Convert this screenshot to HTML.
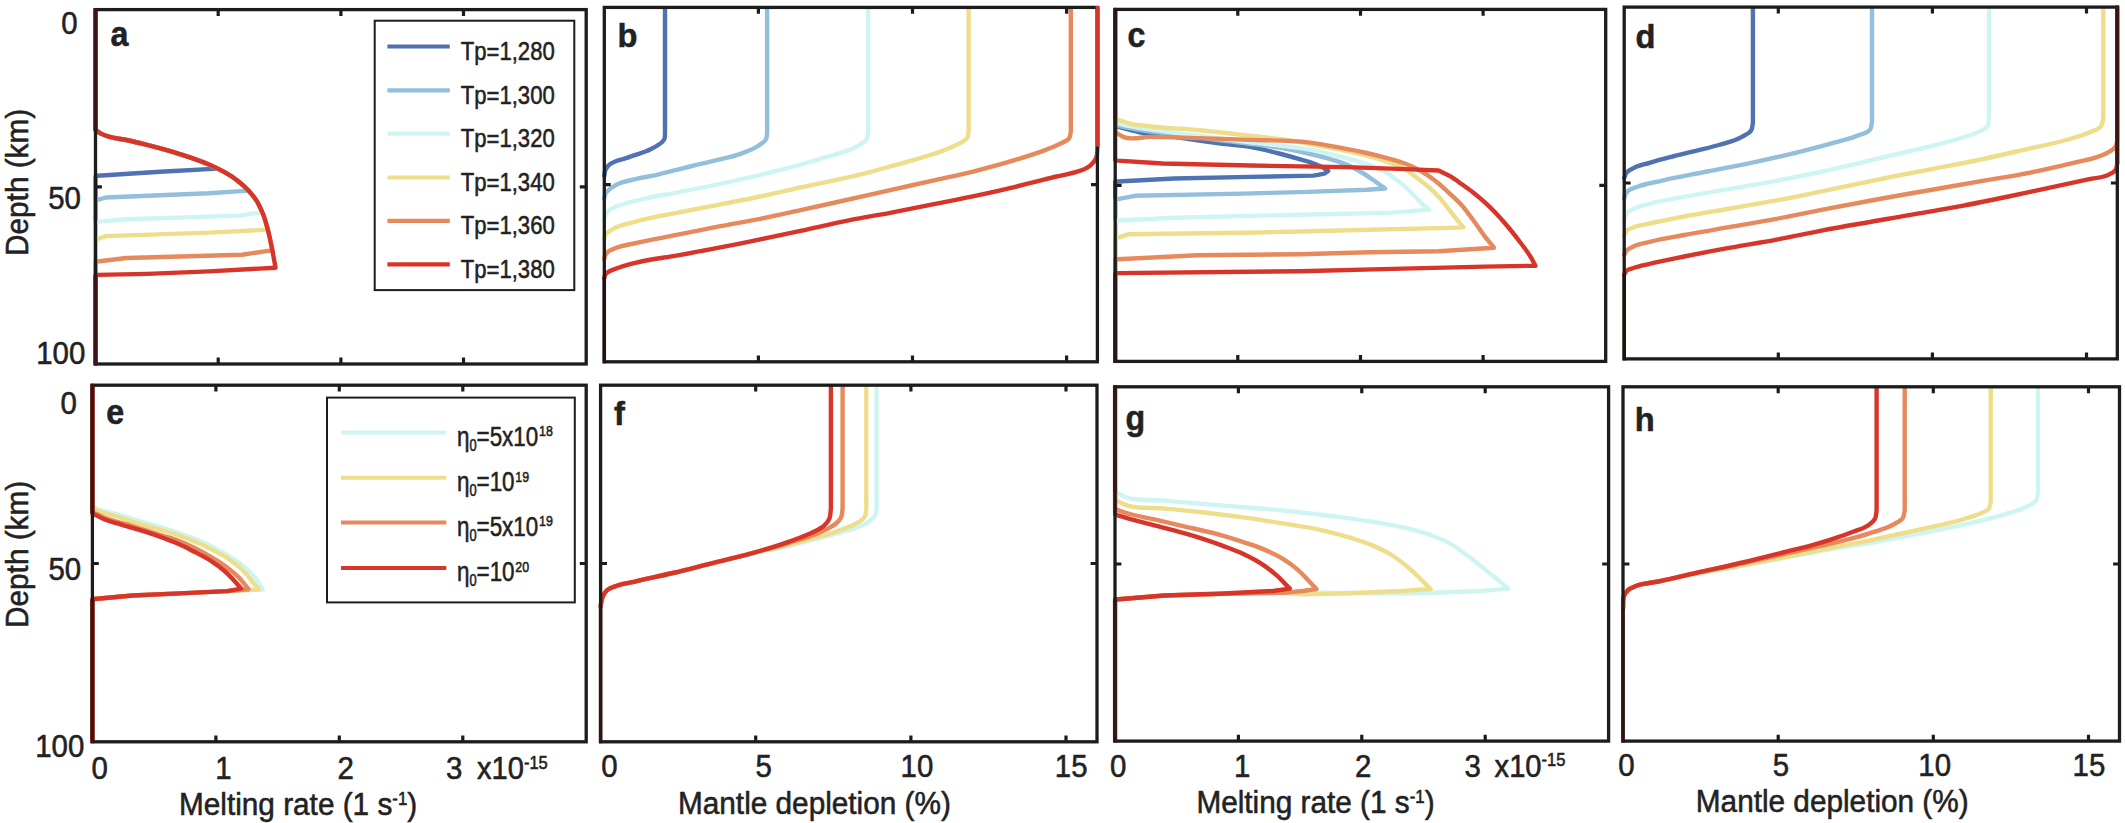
<!DOCTYPE html>
<html lang="en"><head><meta charset="utf-8"><title>Melting rate and mantle depletion profiles</title>
<style>html,body{margin:0;padding:0;background:#fff}body{width:2125px;height:823px;overflow:hidden}svg{display:block}text{font-family:"Liberation Sans",sans-serif;fill:#222222;stroke:#222222;stroke-width:0.55px;stroke-linejoin:round}path{fill:none}</style></head><body>
<svg width="2125" height="823" viewBox="0 0 2125 823">
<rect width="2125" height="823" fill="#ffffff"/>
<g id="panel-a">
<clipPath id="clip-a"><rect x="93.2" y="8.6" width="495.3" height="356.4"/></clipPath>
<g clip-path="url(#clip-a)">
<path d="M95.5 9.6 L95.5 130 C97.2 131.1 98.7 132.4 100.5 133.4 C103.4 135 106.6 135.9 109.8 136.9 C115.2 138.5 120.8 138.9 126.3 140 C133.2 141.4 140.1 143.1 147 144.8 C153.9 146.5 160.8 148.4 167.6 150.4 C174.5 152.4 181.5 154.5 188.3 156.8 C195.2 159.1 202.2 161.3 208.9 164.4 C211.7 165.7 214.5 167.2 217.3 168.6 L160 171.8 L97.4 175.8 L95.5 176.6 L95.5 364" stroke="#4F73B2" stroke-width="4.4" stroke-linejoin="round" stroke-linecap="round" />
<path d="M95.5 9.6 L95.5 130 C97.2 131.1 98.7 132.4 100.5 133.4 C103.4 135 106.6 135.9 109.8 136.9 C115.2 138.5 120.8 138.9 126.3 140 C133.2 141.4 140.1 143.1 147 144.8 C153.9 146.5 160.8 148.4 167.6 150.4 C174.5 152.4 181.5 154.5 188.3 156.8 C195.2 159.1 202.2 161.5 208.9 164.4 C214.6 166.9 220.2 169.6 225.5 172.7 C229.8 175.2 234 177.8 237.9 180.9 C241.7 183.9 245 187.4 248.5 190.6 L208.9 193.3 L105.7 197.5 L98.4 199.6 L95.5 201 L95.5 364" stroke="#93BEDC" stroke-width="4.4" stroke-linejoin="round" stroke-linecap="round" />
<path d="M95.5 9.6 L95.5 130 C97.2 131.1 98.7 132.4 100.5 133.4 C103.4 135 106.6 135.9 109.8 136.9 C115.2 138.5 120.8 138.9 126.3 140 C133.2 141.4 140.1 143.1 147 144.8 C153.9 146.5 160.8 148.4 167.6 150.4 C174.5 152.4 181.5 154.5 188.3 156.8 C195.2 159.1 202.2 161.5 208.9 164.4 C214.6 166.9 220.2 169.6 225.5 172.7 C229.8 175.2 234 177.9 237.9 180.9 C241.5 183.7 245 186.8 248.2 190.2 C251.2 193.4 254.1 196.9 256.5 200.6 C258.9 204.4 260.4 208.6 262.4 212.6 L254.4 213.2 L240 215.6 L126.3 219.2 L99.5 221.6 L95.5 222.6 L95.5 364" stroke="#CFF5F3" stroke-width="4.4" stroke-linejoin="round" stroke-linecap="round" />
<path d="M95.5 9.6 L95.5 130 C97.2 131.1 98.7 132.4 100.5 133.4 C103.4 135 106.6 135.9 109.8 136.9 C115.2 138.5 120.8 138.9 126.3 140 C133.2 141.4 140.1 143.1 147 144.8 C153.9 146.5 160.8 148.4 167.6 150.4 C174.5 152.4 181.5 154.5 188.3 156.8 C195.2 159.1 202.2 161.5 208.9 164.4 C214.6 166.9 220.2 169.6 225.5 172.7 C229.8 175.2 234 177.9 237.9 180.9 C241.5 183.7 245 186.8 248.2 190.2 C251.2 193.4 254.1 196.9 256.5 200.6 C259 204.5 260.8 208.7 262.6 213 C264.8 218.3 266.1 224 267.8 229.5 L262.6 229.9 L208.9 232.6 L105.7 236.1 L98.4 238.8 L95.5 240 L95.5 364" stroke="#EEDE8C" stroke-width="4.4" stroke-linejoin="round" stroke-linecap="round" />
<path d="M95.5 9.6 L95.5 130 C97.2 131.1 98.7 132.4 100.5 133.4 C103.4 135 106.6 135.9 109.8 136.9 C115.2 138.5 120.8 138.9 126.3 140 C133.2 141.4 140.1 143.1 147 144.8 C153.9 146.5 160.8 148.4 167.6 150.4 C174.5 152.4 181.5 154.5 188.3 156.8 C195.2 159.1 202.2 161.5 208.9 164.4 C214.6 166.9 220.2 169.6 225.5 172.7 C229.8 175.2 234 177.9 237.9 180.9 C241.5 183.7 245 186.8 248.2 190.2 C251.2 193.4 254.1 196.9 256.5 200.6 C259 204.5 260.8 208.7 262.6 213 C264.8 218.3 266.3 223.9 267.8 229.5 C269.4 235.6 270.7 241.8 271.9 248 C272.1 248.9 272.2 249.7 272.4 250.6 L267.8 250.9 L242 254.7 L126.3 258 L97.4 261.5 L95.5 262.2 L95.5 364" stroke="#E6895C" stroke-width="4.4" stroke-linejoin="round" stroke-linecap="round" />
<path d="M95.5 9.6 L95.5 130 C97.2 131.1 98.7 132.4 100.5 133.4 C103.4 135 106.6 135.9 109.8 136.9 C115.2 138.5 120.8 138.9 126.3 140 C133.2 141.4 140.1 143.1 147 144.8 C153.9 146.5 160.8 148.4 167.6 150.4 C174.5 152.4 181.5 154.5 188.3 156.8 C195.2 159.1 202.2 161.5 208.9 164.4 C214.6 166.9 220.2 169.6 225.5 172.7 C229.8 175.2 234 177.9 237.9 180.9 C241.5 183.7 245 186.8 248.2 190.2 C251.2 193.4 254.1 196.9 256.5 200.6 C259 204.5 260.8 208.7 262.6 213 C264.8 218.3 266.3 223.9 267.8 229.5 C269.4 235.6 270.6 241.8 271.9 248 C273.2 254.5 274.3 261.1 275.5 267.7 L208.9 271.4 L147 273.9 L97.4 274.9 L95.5 275.2 L95.5 364" stroke="#D8352A" stroke-width="4.4" stroke-linejoin="round" stroke-linecap="round" />
</g>
<rect x="95.5" y="9.6" width="490.7" height="354.4" fill="none" stroke="#1c1c1c" stroke-width="3.3"/>
<path d="M218.2 9.6 v6.4 M218.2 364 v-6.4 M340.9 9.6 v6.4 M340.9 364 v-6.4 M463.5 9.6 v6.4 M463.5 364 v-6.4 M95.5 186.8 h6.4 M586.2 186.8 h-6.4" stroke="#1c1c1c" stroke-width="3.2" stroke-linecap="butt"/>
<path d="M95.5 8.1 V130.5" stroke="#3d1315" stroke-width="3.9" stroke-opacity="1" stroke-linecap="butt"/>
<path d="M95.5 275 V365.5" stroke="#3d1315" stroke-width="3.9" stroke-opacity="1" stroke-linecap="butt"/>
</g>
<g id="panel-b">
<clipPath id="clip-b"><rect x="602" y="6.4" width="497.7" height="356.4"/></clipPath>
<g clip-path="url(#clip-b)">
<path d="M665 7.4 L665 132.5 C664.8 134.7 665.2 137 664.4 139 C663.2 142.1 659.7 143.9 657 145.8 C653.9 148 650.2 149.5 646.7 151 C643.3 152.4 639.8 153.5 636.3 154.7 C632.9 155.9 629.5 157.1 626 158.2 C622.6 159.3 619 159.8 615.7 161.3 C613.1 162.4 610.3 163.5 608.4 165.5 C607 167 606 168.7 605.3 170.6 C604.7 172.3 604.6 174.2 604.3 176" stroke="#4F73B2" stroke-width="4.4" stroke-linejoin="round" stroke-linecap="round" />
<path d="M767.1 7.4 L767.1 132.5 C766.7 134.8 767 137.3 766 139.4 C764.5 142.4 761 143.9 758.3 145.8 C752.7 149.7 746.1 151.8 739.7 154.1 C733 156.5 725.9 158 719 159.7 C712.1 161.4 705.2 162.8 698.3 164.4 C691.4 166.1 684.6 167.9 677.7 169.6 C670.8 171.3 663.9 173.2 657 174.8 C650.1 176.3 643.1 177.2 636.3 178.9 C629.3 180.6 621.9 181.5 615.7 185.1 C613.1 186.6 610.5 188.1 608.4 190.3 C607.2 191.5 606 192.8 605.3 194.4 C604.7 195.7 604.6 197.1 604.3 198.5" stroke="#93BEDC" stroke-width="4.4" stroke-linejoin="round" stroke-linecap="round" />
<path d="M868.1 7.4 L868.1 132.5 C867.6 134.8 867.8 137.3 866.6 139.3 C865.2 141.6 862.5 142.8 860.3 144.4 C849.4 152.3 835.1 154.1 822.3 158.2 C815.5 160.4 808.6 162.4 801.7 164.4 C788 168.3 774.1 171.5 760.3 174.8 C746.6 178.1 732.8 181.2 719 184.1 C705.3 187 691.5 189.6 677.7 192.3 C663.9 195.1 649.9 197 636.3 200.6 C629.4 202.4 622.2 203.7 615.7 206.8 C613.2 208 610.4 209 608.4 210.9 C607.2 212.1 606 213.5 605.3 215.1 C604.8 216.3 604.6 217.7 604.3 219" stroke="#CFF5F3" stroke-width="4.4" stroke-linejoin="round" stroke-linecap="round" />
<path d="M968.6 7.4 L968.6 132.5 C968.1 134.4 968 136.5 967 138.2 C965.4 140.8 962.1 141.8 959.5 143.4 C954.4 146.5 948.6 148.4 943 150.6 C936.2 153.2 929.2 155.3 922.3 157.5 C912.1 160.7 901.6 163.2 891.3 166.1 C884.4 168 877.6 170.1 870.7 171.9 C847.9 178 824.7 182.1 801.7 187.2 C787.9 190.3 774.1 193.6 760.3 196.5 C746.6 199.4 732.8 202 719 204.7 C705.2 207.4 691.4 209.8 677.7 212.6 C663.9 215.4 649.9 217.6 636.3 221.3 C629.4 223.2 622.1 224.2 615.7 227.5 C612.8 229 609.7 230.4 607.4 232.6 C606.6 233.3 605.8 234 605.3 234.9 C604.7 236 604.6 237.3 604.3 238.5" stroke="#EEDE8C" stroke-width="4.4" stroke-linejoin="round" stroke-linecap="round" />
<path d="M1070.8 7.4 L1070.8 131.5 C1070.3 133.7 1070.4 136.2 1069.2 138.2 C1067.5 141 1063.7 141.8 1060.8 143.4 C1056.2 145.9 1051.2 147.7 1046.3 149.6 C1036.2 153.6 1025.7 156.7 1015.3 159.9 C1001.7 164.1 987.9 167.8 974 171.3 C960.3 174.7 946.5 177.5 932.7 180.6 C918.9 183.7 905.1 186.8 891.3 189.9 C861.4 196.6 831.6 203.4 801.7 209.9 C787.9 212.9 774.1 216 760.3 218.8 C746.6 221.5 732.7 223.8 719 226.4 C705.2 229.1 691.5 231.9 677.7 234.7 C663.9 237.5 650 239.8 636.3 243 C629.4 244.6 622.2 245.3 615.7 248.1 C612.8 249.3 609.5 250 607.4 252.3 C606.6 253.2 605.8 254.3 605.3 255.4 C604.8 256.5 604.6 257.8 604.3 259" stroke="#E6895C" stroke-width="4.4" stroke-linejoin="round" stroke-linecap="round" />
<path d="M1097.6 7.4 L1097.6 146 C1097.1 150 1097.8 154.3 1096.2 157.9 C1095 160.6 1093 163.1 1090.8 165.1 C1088.2 167.5 1084.8 168.9 1081.5 170.3 C1077.5 172 1073.2 172.8 1069 173.8 C1064.9 174.8 1060.8 175.6 1056.7 176.5 C1049.8 178.1 1042.9 179.9 1036 181.6 C1029.1 183.3 1022.2 185.1 1015.3 186.8 C1001.6 190.1 987.8 193.2 974 196.1 C960.3 199 946.5 201.7 932.7 204.4 C918.9 207.2 905.1 210 891.3 212.6 C877.6 215.2 863.7 217.4 850 220.1 C833.8 223.3 817.8 227.1 801.7 230.6 C787.9 233.6 774.1 236.5 760.3 239.4 C746.5 242.2 732.8 245 719 247.7 C705.3 250.4 691.5 252.9 677.7 255.4 C663.9 257.9 649.9 259.1 636.3 262.6 C629.4 264.4 622.4 266.1 615.7 268.8 C612.9 269.9 609.7 270.6 607.4 272.5 C606.6 273.1 605.8 273.8 605.3 274.6 C604.7 275.6 604.6 276.9 604.3 278" stroke="#D8352A" stroke-width="4.4" stroke-linejoin="round" stroke-linecap="round" />
</g>
<rect x="604.3" y="7.4" width="493.1" height="354.4" fill="none" stroke="#1c1c1c" stroke-width="3.3"/>
<path d="M758.4 7.4 v6.4 M758.4 361.8 v-6.4 M912.5 7.4 v6.4 M912.5 361.8 v-6.4 M1066.6 7.4 v6.4 M1066.6 361.8 v-6.4 M604.3 184.6 h6.4 M1097.4 184.6 h-6.4" stroke="#1c1c1c" stroke-width="3.2" stroke-linecap="butt"/>
<path d="M1097.6 5.9 V146.5" stroke="#D8352A" stroke-width="4" stroke-opacity="1" stroke-linecap="butt"/>
<path d="M604.3 278 V363.3" stroke="#1d1410" stroke-width="3.5" stroke-opacity="1" stroke-linecap="butt"/>
</g>
<g id="panel-c">
<clipPath id="clip-c"><rect x="1112.9" y="8.4" width="495.1" height="354"/></clipPath>
<g clip-path="url(#clip-c)">
<path d="M1115.2 9.4 L1115.2 126 C1116 126.2 1116.9 126.4 1117.7 126.6 C1125 128.4 1132.2 130.8 1139.6 132.3 C1151 134.7 1162.7 135.2 1174.2 136.9 C1181.9 138 1189.6 139.3 1197.3 140.4 C1205 141.5 1212.7 142.6 1220.4 143.6 C1230.2 144.8 1240.2 145.3 1250 146.9 C1259.8 148.6 1269.5 151 1279.2 153.5 C1285.7 155.2 1292.1 157 1298.6 158.9 C1303.5 160.3 1308.5 161.4 1313.2 163.2 C1316.5 164.5 1319.8 165.8 1322.9 167.6 C1324.7 168.6 1326.4 169.9 1328.2 171 L1325 173.3 L1318 174.9 L1313.2 175.6 L1250 176.9 L1174.2 178.5 L1117.7 181.5 L1115.2 181.8 L1115.2 361.4" stroke="#4F73B2" stroke-width="4.4" stroke-linejoin="round" stroke-linecap="round" />
<path d="M1115.2 9.4 L1115.2 124.5 C1116 124.8 1116.9 125 1117.7 125.3 C1124.8 127.5 1132.3 128.5 1139.6 129.8 C1151.1 131.8 1162.7 132.7 1174.2 134.2 C1189.6 136.2 1205 138.3 1220.4 140.2 C1230.3 141.4 1240.1 142.5 1250 143.8 C1259.7 145 1269.5 146.1 1279.2 147.7 C1289 149.3 1298.7 151.3 1308.3 153.5 C1314.8 155 1321.3 156.6 1327.7 158.4 C1334.3 160.3 1340.9 162 1347.2 164.7 C1352.3 166.9 1357.1 169.7 1361.8 172.5 C1366.8 175.5 1371.5 178.9 1376.3 182.2 C1379.3 184.3 1382.2 186.4 1385.1 188.5 L1366.6 189.8 L1308.3 191.9 L1243.5 193.6 L1135 195.8 L1117.7 199.2 L1115.2 200 L1115.2 361.4" stroke="#93BEDC" stroke-width="4.4" stroke-linejoin="round" stroke-linecap="round" />
<path d="M1115.2 9.4 L1115.2 122.3 C1116 122.6 1116.9 122.8 1117.7 123.1 C1121.1 124.2 1124.6 125 1128.1 125.8 C1135.7 127.5 1143.5 128.3 1151.2 129.5 C1166.5 131.8 1181.9 133.4 1197.3 135.4 C1214.9 137.7 1232.4 140.3 1250 142.4 C1263 144 1276 145 1288.9 146.7 C1298.6 148 1308.4 149.1 1318 151.1 C1324.6 152.5 1331 154.4 1337.5 156 C1344 157.6 1350.5 158.9 1356.9 160.8 C1361.8 162.3 1366.7 163.8 1371.5 165.7 C1376.5 167.7 1381.5 169.8 1386.1 172.5 C1389.5 174.5 1392.6 176.9 1395.8 179.3 C1399.1 181.8 1402.4 184.3 1405.5 187.1 C1408.9 190.1 1412 193.6 1415.2 196.8 C1418.3 199.9 1421.2 203.4 1424.6 206.2 C1426.1 207.4 1427.7 208.5 1429.2 209.6 L1392.3 212.6 L1346.2 213.8 L1300 214.7 L1174.2 217.7 L1118.8 220.5 L1115.2 221 L1115.2 361.4" stroke="#CFF5F3" stroke-width="4.4" stroke-linejoin="round" stroke-linecap="round" />
<path d="M1115.2 9.4 L1115.2 118.8 C1116 119.1 1116.9 119.3 1117.7 119.6 C1121.2 120.7 1124.6 122.1 1128.1 123.1 C1135.6 125.2 1143.5 125.5 1151.2 126.5 C1166.5 128.4 1182 128.6 1197.3 130 C1214.9 131.6 1232.4 133.8 1250 135.8 C1263.2 137.3 1276.5 138.5 1289.6 140.5 C1297.3 141.7 1305 143.1 1312.7 144.5 C1321 146 1329.3 147.5 1337.5 149.2 C1347.2 151.2 1357 153 1366.6 155.5 C1373.2 157.2 1379.7 159.1 1386.1 161.3 C1391 162.9 1396 164.2 1400.6 166.6 C1404 168.4 1407.1 170.8 1410.3 173 C1413.6 175.3 1416.9 177.8 1420.1 180.3 C1423.4 182.8 1426.7 185.3 1429.8 188 C1433.2 191 1436.4 194.3 1439.5 197.7 C1443.3 201.8 1446.5 206.4 1450 210.8 C1453.1 214.6 1456.1 218.5 1459.2 222.3 C1460.6 224 1462 225.7 1463.4 227.4 L1438.5 228.1 L1369.2 229.7 L1300 231.5 L1243.5 232.7 L1128.1 234.3 L1118.8 237.3 L1115.2 238 L1115.2 361.4" stroke="#EEDE8C" stroke-width="4.4" stroke-linejoin="round" stroke-linecap="round" />
<path d="M1115.2 9.4 L1115.2 132.5 C1116 132.9 1116.9 133.2 1117.7 133.6 C1119.3 134.4 1120.7 135.7 1122.3 136.5 C1130.9 140.9 1141.6 136.7 1151.2 136.9 C1166.6 137.2 1181.9 137.6 1197.3 138.1 C1214.9 138.6 1232.4 139.2 1250 139.9 C1269.4 140.6 1289 140 1308.3 142.4 C1318.1 143.6 1327.8 145.4 1337.5 147.2 C1347.2 149 1357 150.8 1366.6 153 C1373.1 154.5 1379.6 156.1 1386.1 157.9 C1392.6 159.7 1399.2 161.2 1405.5 163.7 C1410.5 165.6 1415.4 167.9 1420.1 170.5 C1425.2 173.4 1430 176.8 1434.6 180.3 C1440 184.5 1445 189.2 1450 193.9 C1453.9 197.5 1457.9 201.1 1461.5 205 C1465.7 209.7 1469.3 214.9 1473.1 220 C1477 225.3 1480.6 230.9 1484.6 236.2 C1487.6 240.1 1490.8 243.9 1493.9 247.7 L1438.5 251.2 L1369.2 252.3 L1300 254.2 L1197.3 255.3 L1117.7 259.2 L1115.2 259.6 L1115.2 361.4" stroke="#E6895C" stroke-width="4.4" stroke-linejoin="round" stroke-linecap="round" />
<path d="M1115.2 9.4 L1115.2 160 L1117.7 160.6 L1162.7 163.5 L1250 165.5 L1347.2 167.1 L1405.5 169.1 L1438.5 170.5 C1442.3 172.4 1446.3 174.1 1450 176.2 C1454 178.5 1457.7 181.3 1461.5 184 C1465.4 186.8 1469.3 189.5 1473.1 192.5 C1477 195.6 1480.9 198.8 1484.6 202.2 C1488.6 205.8 1492.5 209.6 1496.2 213.5 C1500.2 217.7 1504 222.1 1507.7 226.5 C1511.7 231.2 1515.5 236.1 1519.2 241 C1523.2 246.3 1527.4 251.5 1530.8 257.2 C1532.4 260 1533.9 262.9 1535.4 265.7 L1484.6 266.6 L1392.3 268.9 L1300 271.2 L1117.7 273.1 L1115.2 273.4 L1115.2 361.4" stroke="#D8352A" stroke-width="4.4" stroke-linejoin="round" stroke-linecap="round" />
</g>
<rect x="1115.2" y="9.4" width="490.5" height="352" fill="none" stroke="#1c1c1c" stroke-width="3.3"/>
<path d="M1237.8 9.4 v6.4 M1237.8 361.4 v-6.4 M1360.5 9.4 v6.4 M1360.5 361.4 v-6.4 M1483.1 9.4 v6.4 M1483.1 361.4 v-6.4 M1115.2 185.4 h6.4 M1605.7 185.4 h-6.4" stroke="#1c1c1c" stroke-width="3.2" stroke-linecap="butt"/>
<path d="M1115.2 7.9 V119" stroke="#2b1718" stroke-width="3.5" stroke-opacity="1" stroke-linecap="butt"/>
<path d="M1115.2 273.4 V362.9" stroke="#2b1718" stroke-width="3.5" stroke-opacity="1" stroke-linecap="butt"/>
</g>
<g id="panel-d">
<clipPath id="clip-d"><rect x="1621.9" y="6.1" width="497.7" height="353.8"/></clipPath>
<g clip-path="url(#clip-d)">
<path d="M1752.9 7.1 L1752.9 122.5 C1752.4 125 1752.6 127.7 1751.4 130 C1749.6 133.5 1745.3 134.9 1741.9 136.9 C1734.9 141 1726.7 142.7 1718.9 145 C1711.3 147.3 1703.5 148.9 1695.8 150.8 C1688.1 152.7 1680.4 154.5 1672.7 156.5 C1665 158.5 1657.2 160.5 1649.6 162.8 C1644.2 164.5 1638.5 165.4 1633.5 168.1 C1631 169.4 1628.2 170.5 1626.5 172.7 C1625.3 174.2 1625 176.2 1624.2 178" stroke="#4F73B2" stroke-width="4.4" stroke-linejoin="round" stroke-linecap="round" />
<path d="M1872 7.1 L1872 122 C1871.4 124.4 1871.5 127.1 1870.3 129.2 C1867.9 133.4 1861.8 133.9 1857.3 135.8 C1849.9 138.9 1841.9 140.5 1834.2 142.7 C1822.7 146 1811.2 149 1799.6 151.9 C1784.3 155.7 1768.9 159 1753.5 162.3 C1738.1 165.6 1722.7 168.4 1707.3 171.5 C1691.9 174.6 1676.5 177.3 1661.2 180.8 C1653.5 182.6 1645.5 183.7 1638.1 186.5 C1634.5 187.9 1630.3 188.4 1627.7 191.2 C1626.7 192.3 1625.8 193.6 1625.2 195 C1624.7 196.1 1624.5 197.3 1624.2 198.5" stroke="#93BEDC" stroke-width="4.4" stroke-linejoin="round" stroke-linecap="round" />
<path d="M1989 7.1 L1989 119 C1988.6 121.4 1988.9 124.1 1987.7 126.2 C1985.9 129.3 1981.7 130.3 1978.5 131.9 C1973.4 134.5 1967.8 135.9 1962.3 137.7 C1954.7 140.2 1946.9 142.2 1939.2 144.2 C1931.6 146.2 1923.9 147.9 1916.2 149.7 C1908.5 151.5 1900.8 153.2 1893.1 155 C1869.6 160.4 1846.3 166.4 1822.7 171.5 C1807.3 174.8 1791.9 177.9 1776.5 180.8 C1761.2 183.7 1745.8 186.1 1730.4 188.8 C1715 191.5 1699.6 194 1684.2 196.9 C1672.6 199.1 1660.9 200.6 1649.6 203.8 C1644.2 205.3 1638.5 206.2 1633.5 208.9 C1631 210.2 1628.2 211.3 1626.5 213.5 C1625.5 214.8 1625 216.5 1624.2 218" stroke="#CFF5F3" stroke-width="4.4" stroke-linejoin="round" stroke-linecap="round" />
<path d="M2103.3 7.1 L2103.3 119 C2102.5 121.4 2102.4 124.1 2101 126.2 C2098.5 129.9 2093.3 130.7 2089.2 132.6 C2081.9 136 2073.9 137.8 2066.2 140 C2054.8 143.3 2043.1 145.4 2031.5 148.1 C2016.1 151.6 2000.8 155.2 1985.4 158.5 C1970 161.8 1954.6 164.7 1939.2 167.7 C1923.8 170.7 1908.4 173.5 1893.1 176.5 C1869.6 181.2 1846.2 186.4 1822.7 191.2 C1807.3 194.3 1791.9 197.5 1776.5 200.4 C1761.2 203.3 1745.8 205.8 1730.4 208.5 C1715 211.2 1699.6 213.6 1684.2 216.5 C1672.6 218.7 1661.1 220.9 1649.6 223.5 C1644.2 224.7 1638.6 225.2 1633.5 227.4 C1631.1 228.4 1628.2 229.1 1626.5 231.1 C1625.4 232.4 1625 234 1624.2 235.5" stroke="#EEDE8C" stroke-width="4.4" stroke-linejoin="round" stroke-linecap="round" />
<path d="M2117.3 7.1 L2117.3 140 C2116.8 142 2116.7 144.2 2115.8 146 C2114.2 149.1 2110.7 150.9 2107.7 152.7 C2104.2 154.9 2100.1 156 2096.2 157.3 C2090.2 159.3 2083.9 160.4 2077.7 161.9 C2062.4 165.6 2047 169.2 2031.5 172.3 C2016.2 175.4 2000.8 177.7 1985.4 180.4 C1970 183.1 1954.6 185.8 1939.2 188.5 C1923.8 191.2 1908.5 193.8 1893.1 196.5 C1869.6 200.7 1846.1 205.1 1822.7 209.6 C1807.3 212.6 1791.9 215.9 1776.5 218.8 C1761.2 221.7 1745.8 224.2 1730.4 226.9 C1715 229.6 1699.6 232.1 1684.2 235 C1672.6 237.2 1661 239 1649.6 241.9 C1644.2 243.3 1638.5 244.1 1633.5 246.5 C1631.1 247.6 1628.2 248.4 1626.5 250.5 C1625.4 251.8 1625 253.5 1624.2 255" stroke="#E6895C" stroke-width="4.4" stroke-linejoin="round" stroke-linecap="round" />
<path d="M2117.3 7.1 L2117.3 163 C2116.7 165.3 2116.9 168 2115.6 170 C2113.9 172.6 2110.5 173.7 2107.7 175.1 C2102 177.9 2095.4 177.8 2089.2 179.2 C2077.7 181.7 2066.1 184.1 2054.6 186.6 C2039.2 189.9 2023.9 193.3 2008.5 196.5 C1993.1 199.7 1977.7 202.9 1962.3 205.8 C1947 208.7 1931.6 211.2 1916.2 213.9 C1885 219.4 1853.8 224.4 1822.7 230.4 C1807.3 233.4 1791.9 236.7 1776.5 239.6 C1761.2 242.5 1745.7 244.9 1730.4 247.7 C1715 250.5 1699.6 253.4 1684.2 256.5 C1672.6 258.9 1661.1 261.1 1649.6 263.9 C1644.2 265.2 1638.7 266.2 1633.5 268 C1631.1 268.8 1628.3 269 1626.5 270.8 C1625.5 271.8 1625 273.3 1624.2 274.5" stroke="#D8352A" stroke-width="4.4" stroke-linejoin="round" stroke-linecap="round" />
</g>
<rect x="1624.2" y="7.1" width="493.1" height="351.8" fill="none" stroke="#1c1c1c" stroke-width="3.3"/>
<path d="M1778.3 7.1 v6.4 M1778.3 358.9 v-6.4 M1932.4 7.1 v6.4 M1932.4 358.9 v-6.4 M2086.5 7.1 v6.4 M2086.5 358.9 v-6.4 M1624.2 183 h6.4 M2117.3 183 h-6.4" stroke="#1c1c1c" stroke-width="3.2" stroke-linecap="butt"/>
<path d="M2117.3 5.6 V164" stroke="#3a1614" stroke-width="3.8" stroke-opacity="1" stroke-linecap="butt"/>
<path d="M1624.2 274.5 V360.4" stroke="#1d1410" stroke-width="3.5" stroke-opacity="1" stroke-linecap="butt"/>
</g>
<g id="panel-e">
<clipPath id="clip-e"><rect x="90.1" y="384.2" width="498.4" height="358.6"/></clipPath>
<g clip-path="url(#clip-e)">
<path d="M92.4 385.2 L92.4 506.5 C93.1 506.9 93.8 507.3 94.5 507.7 C101.2 511.3 109.3 511.8 116.6 514 C121.9 515.6 127.1 517.2 132.4 518.8 C148.2 523.6 164.3 527.7 179.8 533.4 C190.4 537.3 201.2 541.1 211.3 546.1 C216.7 548.8 222 551.6 227.1 554.8 C232.6 558.2 238 561.7 242.9 565.8 C247.5 569.6 251.9 573.7 255.6 578.4 C258.3 581.9 260.3 585.8 262.7 589.5 L227.1 591.1 L179.8 593.4 L132.4 595.5 L94.5 599 L92.4 599.4 L92.4 741.8" stroke="#CFF5F3" stroke-width="4.4" stroke-linejoin="round" stroke-linecap="round" />
<path d="M92.4 385.2 L92.4 508.8 C93.1 509.1 93.8 509.4 94.5 509.7 C101.6 512.7 109.3 514.1 116.6 516.4 C121.9 518.1 127.1 519.9 132.4 521.6 C148.1 526.7 164.3 530 179.8 535.8 C190.5 539.8 201.1 544 211.3 549.2 C216.7 551.9 222.1 554.6 227.1 557.9 C232.7 561.6 238.1 565.7 242.9 570.5 C246.4 573.9 249.3 577.8 252.4 581.6 C254.5 584.2 256.6 586.9 258.7 589.5 L227.1 591.1 L179.8 593.4 L132.4 595.5 L94.5 599 L92.4 599.4 L92.4 741.8" stroke="#EEDE8C" stroke-width="4.4" stroke-linejoin="round" stroke-linecap="round" />
<path d="M92.4 385.2 L92.4 512.2 C93.1 512.5 93.8 512.7 94.5 513 C97.8 514.3 100.8 516.2 104 517.6 C113.1 521.5 123 523.1 132.4 526 C143 529.2 153.5 532.5 164 536 C169.3 537.7 174.6 539.3 179.8 541.3 C190.8 545.5 201.2 551.1 211.3 557.1 C216.7 560.3 222.1 563.6 227.1 567.4 C231.6 570.8 235.9 574.3 239.8 578.4 C243 581.8 245.6 585.6 248.5 589.2 L227.1 591.1 L179.8 593.4 L132.4 595.5 L94.5 599 L92.4 599.4 L92.4 741.8" stroke="#E6895C" stroke-width="4.4" stroke-linejoin="round" stroke-linecap="round" />
<path d="M92.4 385.2 L92.4 513.6 C93.1 513.9 93.8 514.2 94.5 514.5 C97.7 515.9 100.7 517.9 104 519.2 C108.1 520.9 112.4 521.9 116.6 523.2 C121.9 524.8 127.1 526.3 132.4 527.9 C137.7 529.5 143 530.9 148.2 532.6 C153.5 534.3 158.8 536.2 164 538.2 C169.3 540.2 174.6 542.2 179.8 544.5 C185.1 546.9 190.3 549.7 195.5 552.4 C200.8 555.2 206.3 557.8 211.3 561.1 C215.7 564 220 567 224 570.5 C227.4 573.4 230.4 576.7 233.5 580 C236.2 582.8 238.7 585.8 241.3 588.7 L227.1 591.1 L179.8 593.4 L132.4 595.5 L94.5 599 L92.4 599.4 L92.4 741.8" stroke="#D8352A" stroke-width="4.4" stroke-linejoin="round" stroke-linecap="round" />
</g>
<rect x="92.4" y="385.2" width="493.8" height="356.6" fill="none" stroke="#1c1c1c" stroke-width="3.3"/>
<path d="M215.9 385.2 v6.4 M215.9 741.8 v-6.4 M339.3 385.2 v6.4 M339.3 741.8 v-6.4 M462.8 385.2 v6.4 M462.8 741.8 v-6.4 M92.4 563.5 h6.4 M586.2 563.5 h-6.4" stroke="#1c1c1c" stroke-width="3.2" stroke-linecap="butt"/>
<path d="M92.4 383.7 V513" stroke="#3d1315" stroke-width="3.9" stroke-opacity="1" stroke-linecap="butt"/>
<path d="M92.4 599.4 V743.3" stroke="#3d1315" stroke-width="3.9" stroke-opacity="1" stroke-linecap="butt"/>
</g>
<g id="panel-f">
<clipPath id="clip-f"><rect x="598.3" y="384.2" width="501" height="358.6"/></clipPath>
<g clip-path="url(#clip-f)">
<path d="M876.6 385.2 L876.6 507.5 C876.1 510.2 876.3 513.2 875 515.7 C873.7 518.1 871.3 519.8 869.1 521.5 C865.6 524.1 861.4 525.6 857.4 527.3 C851.2 529.9 844.5 531.3 838 533.2 C831.6 535 825.1 536.7 818.6 538.4 C808.9 540.9 799.2 543.5 789.4 545.8 C776.5 548.8 763.4 550.7 750.5 553.6 C737.5 556.5 724.6 560.1 711.6 563.3 C698.7 566.5 685.8 569.9 672.8 573 C659.9 576.1 646.8 578.7 633.9 581.8 C627.4 583.4 620.6 584 614.4 586.6 C611.8 587.7 608.8 588.5 606.7 590.5 C605 592.1 603.8 594.3 602.8 596.4 C601.4 599.4 601.3 602.8 600.6 606" stroke="#CFF5F3" stroke-width="4.4" stroke-linejoin="round" stroke-linecap="round" />
<path d="M866.3 385.2 L866.3 508.5 C865.8 511.2 866.2 514.3 864.8 516.7 C863.6 518.8 861.3 520.1 859.4 521.5 C855.9 524.1 851.7 525.5 847.7 527.3 C841.4 530.1 834.9 532.2 828.3 534.2 C821.9 536.2 815.3 537.7 808.8 539.4 C802.3 541.1 795.9 542.9 789.4 544.6 C776.5 547.9 763.4 550.5 750.5 553.6 C737.5 556.7 724.6 560.1 711.6 563.3 C698.7 566.5 685.8 569.9 672.8 573 C659.9 576.1 646.8 578.7 633.9 581.8 C627.4 583.4 620.6 584 614.4 586.6 C611.8 587.7 608.8 588.5 606.7 590.5 C605 592.1 603.8 594.3 602.8 596.4 C601.4 599.4 601.3 602.8 600.6 606" stroke="#EEDE8C" stroke-width="4.4" stroke-linejoin="round" stroke-linecap="round" />
<path d="M842.6 385.2 L842.6 508.5 C842.1 511.5 842.4 514.8 841 517.6 C839.9 519.9 838 521.8 836.1 523.5 C833.8 525.5 831 526.8 828.3 528.3 C825.2 530 821.9 531.5 818.6 533 C809.2 537.2 799.2 539.8 789.4 542.8 C776.5 546.8 763.5 550.2 750.5 553.6 C737.6 557 724.6 560.1 711.6 563.3 C698.7 566.5 685.8 569.9 672.8 573 C659.9 576.1 646.8 578.7 633.9 581.8 C627.4 583.4 620.6 584 614.4 586.6 C611.8 587.7 608.8 588.5 606.7 590.5 C605 592.1 603.8 594.3 602.8 596.4 C601.4 599.4 601.3 602.8 600.6 606" stroke="#E6895C" stroke-width="4.4" stroke-linejoin="round" stroke-linecap="round" />
<path d="M830.9 385.2 L830.9 508.5 C830.4 511.9 830.8 515.5 829.4 518.6 C828.3 521.2 826.4 523.4 824.4 525.4 C821.2 528.6 816.7 530.2 812.7 532.2 C808.3 534.4 803.7 536.2 799.1 538 C792.7 540.5 786.2 542.6 779.7 544.8 C770 548 760.3 550.9 750.5 553.6 C737.6 557.2 724.6 560.1 711.6 563.3 C698.7 566.5 685.8 569.9 672.8 573 C659.9 576.1 646.8 578.7 633.9 581.8 C627.4 583.4 620.6 584 614.4 586.6 C611.8 587.7 608.8 588.5 606.7 590.5 C605 592.1 603.8 594.3 602.8 596.4 C601.4 599.4 601.3 602.8 600.6 606" stroke="#D8352A" stroke-width="4.4" stroke-linejoin="round" stroke-linecap="round" />
</g>
<rect x="600.6" y="385.2" width="496.4" height="356.6" fill="none" stroke="#1c1c1c" stroke-width="3.3"/>
<path d="M755.7 385.2 v6.4 M755.7 741.8 v-6.4 M910.9 385.2 v6.4 M910.9 741.8 v-6.4 M1066 385.2 v6.4 M1066 741.8 v-6.4 M600.6 563.5 h6.4 M1097 563.5 h-6.4" stroke="#1c1c1c" stroke-width="3.2" stroke-linecap="butt"/>
<path d="M600.6 606 V743.3" stroke="#2e1512" stroke-width="3.5" stroke-opacity="1" stroke-linecap="butt"/>
</g>
<g id="panel-g">
<clipPath id="clip-g"><rect x="1112.7" y="385.8" width="498.2" height="356.3"/></clipPath>
<g clip-path="url(#clip-g)">
<path d="M1115 386.8 L1115 492 C1115.9 492.4 1116.9 492.9 1117.8 493.3 C1120.1 494.4 1122.4 495.7 1124.8 496.7 C1137 501.8 1151.1 499.4 1164.3 500.6 C1184.1 502.4 1203.8 503.9 1223.6 505.6 C1243.4 507.2 1263.2 508.5 1282.9 510.5 C1302.7 512.5 1322.5 514.7 1342.2 517.4 C1355.4 519.2 1368.6 521.1 1381.7 523.4 C1391.6 525.2 1401.6 526.8 1411.4 529.3 C1418 531 1424.7 532.8 1431.1 535.2 C1437.9 537.7 1444.6 540.5 1450.9 544.1 C1457.9 548 1464.2 553.2 1470.6 558 C1477.4 563.1 1483.9 568.5 1490.4 573.8 C1496.4 578.7 1502.3 583.7 1508.2 588.6 L1480.5 591 L1441 592.5 L1401.5 593.5 L1273 592.3 L1223.6 593.9 L1164.3 595.5 L1115.9 599.5 L1115 599.8 L1115 741.1" stroke="#CFF5F3" stroke-width="4.4" stroke-linejoin="round" stroke-linecap="round" />
<path d="M1115 386.8 L1115 500 C1115.9 500.4 1116.9 500.8 1117.8 501.2 C1120.2 502.3 1122.4 503.6 1124.8 504.6 C1137 509.7 1151.1 507.2 1164.3 508.5 C1177.5 509.8 1190.6 511 1203.8 512.5 C1217 514 1230.2 515.6 1243.4 517.4 C1256.6 519.2 1269.8 521.3 1282.9 523.4 C1296.1 525.6 1309.4 527.4 1322.4 530.3 C1332.4 532.6 1342.3 535.1 1352.1 538.2 C1358.7 540.3 1365.4 542.4 1371.8 545.1 C1378.6 548 1385.3 551.1 1391.6 555 C1397.2 558.5 1402.4 562.6 1407.4 566.8 C1412.2 570.8 1416.7 575.3 1421.2 579.7 C1424.4 582.8 1427.5 585.9 1430.7 589 L1401.5 591 L1342.2 593.5 L1302.6 594.3 L1273 592.3 L1223.6 593.9 L1164.3 595.5 L1115.9 599.5 L1115 599.8 L1115 741.1" stroke="#EEDE8C" stroke-width="4.4" stroke-linejoin="round" stroke-linecap="round" />
<path d="M1115 386.8 L1115 508.5 C1115.6 508.8 1116.3 509.2 1116.9 509.5 C1119.4 510.8 1122.1 511.6 1124.8 512.5 C1134.4 515.8 1144.5 517.1 1154.4 519.4 C1164.3 521.7 1174.2 524 1184.1 526.3 C1194 528.6 1203.9 530.6 1213.7 533.2 C1223.7 535.9 1233.6 538.8 1243.4 542.1 C1250 544.3 1256.7 546.4 1263.1 549.1 C1269.9 552 1276.6 555 1282.9 558.9 C1287.7 561.9 1292.4 565.1 1296.7 568.8 C1301 572.4 1304.7 576.7 1308.6 580.7 C1311.3 583.4 1313.9 586.2 1316.5 589 L1302.6 591 L1282.9 592.9 L1273 593 L1223.6 593.9 L1164.3 595.5 L1115.9 599.5 L1115 599.8 L1115 741.1" stroke="#E6895C" stroke-width="4.4" stroke-linejoin="round" stroke-linecap="round" />
<path d="M1115 386.8 L1115 514 C1115.3 514.2 1115.6 514.3 1115.9 514.5 C1118.7 516 1121.8 516.5 1124.8 517.4 C1134.5 520.4 1144.5 522.7 1154.4 525.3 C1164.3 527.9 1174.3 530.4 1184.1 533.2 C1190.7 535.1 1197.3 537.1 1203.8 539.2 C1210.4 541.4 1217.1 543.7 1223.6 546.1 C1230.3 548.6 1237 551 1243.4 554 C1250.2 557.2 1256.9 560.7 1263.1 564.9 C1268 568.2 1272.6 571.8 1277 575.7 C1280.5 578.8 1283.5 582.3 1286.8 585.6 C1287.8 586.6 1288.8 587.6 1289.8 588.6 L1273 591 L1223.6 593.5 L1164.3 595.5 L1115.9 599.5 L1115 599.8 L1115 741.1" stroke="#D8352A" stroke-width="4.4" stroke-linejoin="round" stroke-linecap="round" />
</g>
<rect x="1115" y="386.8" width="493.6" height="354.3" fill="none" stroke="#1c1c1c" stroke-width="3.3"/>
<path d="M1238.4 386.8 v6.4 M1238.4 741.1 v-6.4 M1361.8 386.8 v6.4 M1361.8 741.1 v-6.4 M1485.2 386.8 v6.4 M1485.2 741.1 v-6.4 M1115 564 h6.4 M1608.6 564 h-6.4" stroke="#1c1c1c" stroke-width="3.2" stroke-linecap="butt"/>
<path d="M1115 385.3 V492" stroke="#2b1718" stroke-width="3.5" stroke-opacity="1" stroke-linecap="butt"/>
<path d="M1115 599.8 V742.6" stroke="#2b1718" stroke-width="3.5" stroke-opacity="1" stroke-linecap="butt"/>
</g>
<g id="panel-h">
<clipPath id="clip-h"><rect x="1620.7" y="385.8" width="501.1" height="356.3"/></clipPath>
<g clip-path="url(#clip-h)">
<path d="M2037.9 386.8 L2037.9 493 C2037.3 495.4 2037.4 498.1 2036.2 500.3 C2034.2 503.7 2029.8 504.9 2026.3 506.8 C2019.6 510.5 2011.9 512.1 2004.6 514.4 C1997.5 516.6 1990.2 518.4 1983 520.2 C1975.8 522 1968.6 523.6 1961.4 525.2 C1947 528.4 1932.5 531 1918.1 533.9 C1903.7 536.7 1889.3 539.8 1874.8 542.3 C1860.4 544.8 1845.9 546.5 1831.5 549 C1817 551.5 1802.6 554.5 1788.2 557.2 C1773.8 559.9 1759.3 562.6 1744.9 565.2 C1730.5 567.8 1716 570.2 1701.6 572.9 C1687.1 575.6 1672.7 578.6 1658.3 581.5 C1651.1 582.9 1643.4 583 1636.6 585.8 C1633.6 587 1630.3 587.9 1628 590.1 C1626.4 591.6 1625 593.6 1624.1 595.6 C1622.4 599.4 1623.4 603.9 1623 608" stroke="#CFF5F3" stroke-width="4.4" stroke-linejoin="round" stroke-linecap="round" />
<path d="M1990.7 386.8 L1990.7 502 C1990 504.3 1990.1 507 1988.6 509 C1986.8 511.4 1983.5 512 1980.8 513.3 C1974.7 516.3 1967.9 517.9 1961.4 519.8 C1954.2 521.9 1947 523.5 1939.7 525.2 C1932.5 526.9 1925.3 528.3 1918.1 529.8 C1903.7 532.9 1889.3 536.3 1874.8 539.3 C1860.4 542.3 1845.9 545 1831.5 547.9 C1817.1 550.8 1802.6 553.8 1788.2 556.6 C1773.8 559.4 1759.3 562.1 1744.9 564.8 C1730.5 567.5 1716 569.8 1701.6 572.6 C1687.1 575.4 1672.7 578.6 1658.3 581.5 C1651.1 583 1643.4 583 1636.6 585.8 C1633.6 587 1630.3 587.9 1628 590.1 C1626.4 591.6 1625 593.6 1624.1 595.6 C1622.4 599.4 1623.4 603.9 1623 608" stroke="#EEDE8C" stroke-width="4.4" stroke-linejoin="round" stroke-linecap="round" />
<path d="M1904.7 386.8 L1904.7 510.5 C1904.1 512.9 1904.2 515.5 1903 517.6 C1901.2 520.8 1897.3 522.2 1894.2 524.1 C1888.3 527.7 1881.4 529.4 1874.8 531.7 C1867.7 534.2 1860.4 536.2 1853.1 538.2 C1845.9 540.2 1838.7 541.9 1831.5 543.6 C1824.3 545.3 1817 546.8 1809.8 548.4 C1802.6 550 1795.4 551.6 1788.2 553.2 C1773.8 556.4 1759.4 559.7 1744.9 562.8 C1730.5 565.9 1716 568.6 1701.6 571.7 C1687.1 574.8 1672.8 578.5 1658.3 581.5 C1651.1 583 1643.4 583 1636.6 585.8 C1633.6 587 1630.3 587.9 1628 590.1 C1626.4 591.6 1625 593.6 1624.1 595.6 C1622.4 599.4 1623.4 603.9 1623 608" stroke="#E6895C" stroke-width="4.4" stroke-linejoin="round" stroke-linecap="round" />
<path d="M1876.6 386.8 L1876.6 510.5 C1876.1 513.2 1876.3 516.2 1875 518.7 C1873.6 521.5 1870.8 523.3 1868.3 525.2 C1863.9 528.5 1858.2 529.7 1853.1 531.7 C1846 534.5 1838.8 536.9 1831.5 539.3 C1824.3 541.6 1817.1 543.8 1809.8 545.8 C1802.6 547.8 1795.4 549.4 1788.2 551.2 C1773.8 554.8 1759.4 558.6 1744.9 562 C1730.5 565.4 1716 568.5 1701.6 571.7 C1687.2 575 1672.8 578.5 1658.3 581.5 C1651.1 583 1643.4 583 1636.6 585.8 C1633.6 587 1630.3 587.9 1628 590.1 C1626.4 591.6 1625 593.6 1624.1 595.6 C1622.4 599.4 1623.4 603.9 1623 608" stroke="#D8352A" stroke-width="4.4" stroke-linejoin="round" stroke-linecap="round" />
</g>
<rect x="1623" y="386.8" width="496.5" height="354.3" fill="none" stroke="#1c1c1c" stroke-width="3.3"/>
<path d="M1778.2 386.8 v6.4 M1778.2 741.1 v-6.4 M1933.3 386.8 v6.4 M1933.3 741.1 v-6.4 M2088.5 386.8 v6.4 M2088.5 741.1 v-6.4 M1623 564 h6.4 M2119.5 564 h-6.4" stroke="#1c1c1c" stroke-width="3.2" stroke-linecap="butt"/>
<path d="M1623 608 V742.6" stroke="#2e1512" stroke-width="3.5" stroke-opacity="1" stroke-linecap="butt"/>
</g>
<g id="labels">
<text font-size="31" text-anchor="end" transform="translate(77.7 33.5) scale(0.95 1)" >0</text>
<text font-size="31" text-anchor="end" transform="translate(81 208.6) scale(0.95 1)" >50</text>
<text font-size="31" text-anchor="end" transform="translate(85.3 364.1) scale(0.95 1)" >100</text>
<text font-size="31" text-anchor="end" transform="translate(77 414.3) scale(0.95 1)" >0</text>
<text font-size="31" text-anchor="end" transform="translate(81.2 579.8) scale(0.95 1)" >50</text>
<text font-size="31" text-anchor="end" transform="translate(84.3 757.1) scale(0.95 1)" >100</text>
<text font-size="31" text-anchor="middle" transform="translate(27.7 182.4) rotate(-90) scale(0.96 1)" >Depth (km)</text>
<text font-size="31" text-anchor="middle" transform="translate(27.7 554.4) rotate(-90) scale(0.96 1)" >Depth (km)</text>
<text font-size="31" text-anchor="middle" transform="translate(99.7 778.9) scale(0.95 1)" >0</text>
<text font-size="31" text-anchor="middle" transform="translate(223.4 778.9) scale(0.95 1)" >1</text>
<text font-size="31" text-anchor="middle" transform="translate(345.6 778.9) scale(0.95 1)" >2</text>
<text font-size="31" text-anchor="middle" transform="translate(454.2 778.9) scale(0.95 1)" >3</text>
<text font-size="31" text-anchor="middle" transform="translate(609.4 777.2) scale(0.95 1)" >0</text>
<text font-size="31" text-anchor="middle" transform="translate(763.7 777.2) scale(0.95 1)" >5</text>
<text font-size="31" text-anchor="middle" transform="translate(917 777.2) scale(0.95 1)" >10</text>
<text font-size="31" text-anchor="middle" transform="translate(1071.2 777.2) scale(0.95 1)" >15</text>
<text font-size="31" text-anchor="middle" transform="translate(1118.2 776.5) scale(0.95 1)" >0</text>
<text font-size="31" text-anchor="middle" transform="translate(1242.2 776.5) scale(0.95 1)" >1</text>
<text font-size="31" text-anchor="middle" transform="translate(1363.2 776.5) scale(0.95 1)" >2</text>
<text font-size="31" text-anchor="middle" transform="translate(1472.8 776.5) scale(0.95 1)" >3</text>
<text font-size="31" text-anchor="middle" transform="translate(1626.5 775.5) scale(0.95 1)" >0</text>
<text font-size="31" text-anchor="middle" transform="translate(1781 775.5) scale(0.95 1)" >5</text>
<text font-size="31" text-anchor="middle" transform="translate(1934.7 775.5) scale(0.95 1)" >10</text>
<text font-size="31" text-anchor="middle" transform="translate(2089 775.5) scale(0.95 1)" >15</text>
<text font-size="31" text-anchor="start" transform="translate(477 778.9) scale(0.94 1)" >x10<tspan font-size="17.5" dy="-10.2">-15</tspan></text>
<text font-size="31" text-anchor="start" transform="translate(1494.6 776.5) scale(0.94 1)" >x10<tspan font-size="17.5" dy="-10.2">-15</tspan></text>
<text font-size="31" text-anchor="start" transform="translate(179 815.3) scale(0.96 1)" >Melting rate (1 s<tspan font-size="17.5" dy="-10.2">-1</tspan><tspan dy="10.2">)</tspan></text>
<text font-size="31" text-anchor="start" transform="translate(1196.4 812.8) scale(0.96 1)" >Melting rate (1 s<tspan font-size="17.5" dy="-10.2">-1</tspan><tspan dy="10.2">)</tspan></text>
<text font-size="31" text-anchor="start" transform="translate(678 813.6) scale(0.96 1)" >Mantle depletion (%)</text>
<text font-size="31" text-anchor="start" transform="translate(1695.8 811.5) scale(0.96 1)" >Mantle depletion (%)</text>
<text font-size="35" font-weight="bold" text-anchor="start" transform="translate(110.5 46.2) scale(0.92 1)">a</text>
<text font-size="34" font-weight="bold" text-anchor="start" transform="translate(617.4 47.2) scale(0.96 1)">b</text>
<text font-size="35" font-weight="bold" text-anchor="start" transform="translate(1127.4 47.3) scale(0.92 1)">c</text>
<text font-size="34" font-weight="bold" text-anchor="start" transform="translate(1635.6 47.9) scale(0.96 1)">d</text>
<text font-size="35" font-weight="bold" text-anchor="start" transform="translate(106.2 423.6) scale(0.92 1)">e</text>
<text font-size="34" font-weight="bold" text-anchor="start" transform="translate(614 424.5) scale(0.96 1)">f</text>
<text font-size="35" font-weight="bold" text-anchor="start" transform="translate(1125.6 429.9) scale(0.92 1)">g</text>
<text font-size="34" font-weight="bold" text-anchor="start" transform="translate(1634.8 430.7) scale(0.96 1)">h</text>
</g>
<g id="legend-a">
<rect x="374.7" y="20.7" width="199.6" height="269.4" fill="#fff" stroke="#1c1c1c" stroke-width="2"/>
<path d="M387.4 46.5 H449.8" stroke="#4F73B2" stroke-width="4.2" stroke-linecap="butt"/>
<text font-size="26.6" text-anchor="start" style="font-kerning:none" transform="translate(460.8 59.7) scale(0.83 1)">Tp=1,280</text>
<path d="M387.4 90.4 H449.8" stroke="#93BEDC" stroke-width="4.2" stroke-linecap="butt"/>
<text font-size="26.6" text-anchor="start" style="font-kerning:none" transform="translate(460.8 103.6) scale(0.83 1)">Tp=1,300</text>
<path d="M387.4 133.7 H449.8" stroke="#CFF5F3" stroke-width="4.2" stroke-linecap="butt"/>
<text font-size="26.6" text-anchor="start" style="font-kerning:none" transform="translate(460.8 146.9) scale(0.83 1)">Tp=1,320</text>
<path d="M387.4 177.5 H449.8" stroke="#EEDE8C" stroke-width="4.2" stroke-linecap="butt"/>
<text font-size="26.6" text-anchor="start" style="font-kerning:none" transform="translate(460.8 190.7) scale(0.83 1)">Tp=1,340</text>
<path d="M387.4 220.8 H449.8" stroke="#E6895C" stroke-width="4.2" stroke-linecap="butt"/>
<text font-size="26.6" text-anchor="start" style="font-kerning:none" transform="translate(460.8 234) scale(0.83 1)">Tp=1,360</text>
<path d="M387.4 264.3 H449.8" stroke="#D8352A" stroke-width="4.2" stroke-linecap="butt"/>
<text font-size="26.6" text-anchor="start" style="font-kerning:none" transform="translate(460.8 277.5) scale(0.83 1)">Tp=1,380</text>
</g>
<g id="legend-e">
<rect x="327.0" y="397.6" width="247.8" height="204.8" fill="#fff" stroke="#1c1c1c" stroke-width="2"/>
<path d="M341.0 432.5 H446.3" stroke="#CFF5F3" stroke-width="4" stroke-linecap="butt"/>
<text font-size="28" text-anchor="start" transform="translate(457.0 445.7) scale(0.8 1)">η<tspan font-size="16" dy="5">0</tspan><tspan dy="-5">=5x10</tspan><tspan font-size="15.5" dx="1" dy="-9.3">18</tspan></text>
<path d="M341.0 477.8 H446.3" stroke="#EEDE8C" stroke-width="4" stroke-linecap="butt"/>
<text font-size="28" text-anchor="start" transform="translate(457.0 491) scale(0.8 1)">η<tspan font-size="16" dy="5">0</tspan><tspan dy="-5">=10</tspan><tspan font-size="15.5" dx="1" dy="-9.3">19</tspan></text>
<path d="M341.0 522.5 H446.3" stroke="#E6895C" stroke-width="4" stroke-linecap="butt"/>
<text font-size="28" text-anchor="start" transform="translate(457.0 535.7) scale(0.8 1)">η<tspan font-size="16" dy="5">0</tspan><tspan dy="-5">=5x10</tspan><tspan font-size="15.5" dx="1" dy="-9.3">19</tspan></text>
<path d="M341.0 568.1 H446.3" stroke="#D8352A" stroke-width="4" stroke-linecap="butt"/>
<text font-size="28" text-anchor="start" transform="translate(457.0 581.3) scale(0.8 1)">η<tspan font-size="16" dy="5">0</tspan><tspan dy="-5">=10</tspan><tspan font-size="15.5" dx="1" dy="-9.3">20</tspan></text>
</g>
</svg></body></html>
